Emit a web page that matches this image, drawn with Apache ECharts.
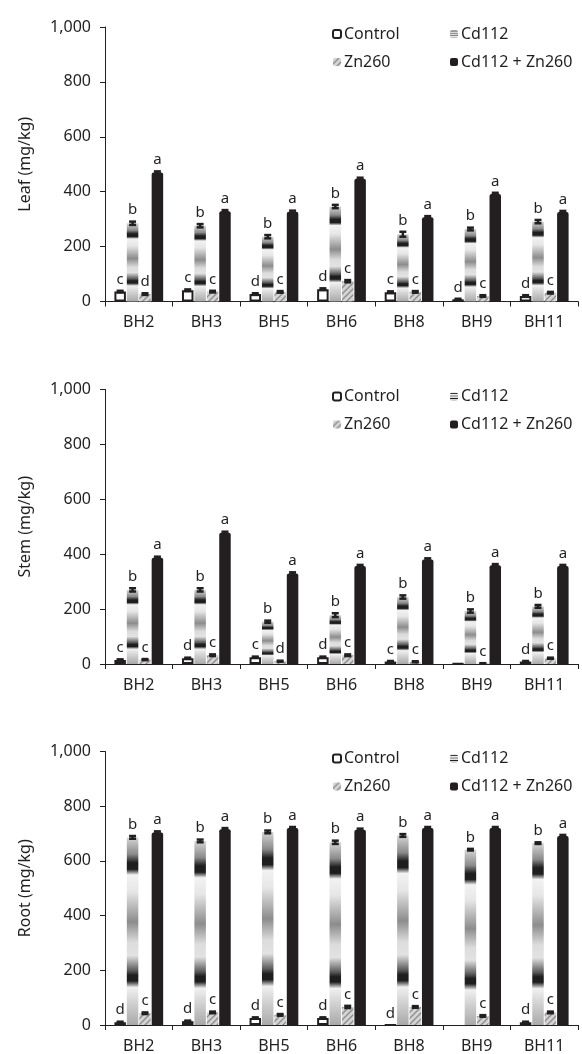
<!DOCTYPE html>
<html>
<head>
<meta charset="utf-8">
<script src="https://cdn.jsdelivr.net/npm/echarts@6/dist/echarts.min.js"></script>
<style>
  html, body { margin: 0; padding: 0; background: #fff; }
  #chart { width: 582px; height: 1054px; }
</style>
</head>
<body>
<div id="chart"></div>
<script>
// ---------- DATA ----------
const categories = ['BH2', 'BH3', 'BH5', 'BH6', 'BH8', 'BH9', 'BH11'];
const seriesNames = ['Control', 'Cd112', 'Zn260', 'Cd112 + Zn260'];
const yTicks = [0, 200, 400, 600, 800, 1000];
const panelNames = ['Leaf (mg/kg)', 'Stem (mg/kg)', 'Root (mg/kg)'];

// Leaf
const leafControl = [36, 41, 27, 45, 34, 8, 20];
const leafCd112 = [285, 276, 236, 346, 245, 264, 291];
const leafZn260 = [27, 36, 35, 74, 35, 20, 32];
const leafCdZn = [470, 329, 327, 447, 307, 392, 326];
const leafControlErr = [3, 3, 3, 3, 3, 2, 3];
const leafCd112Err = [6, 6, 6, 6, 9, 5, 6];
const leafZn260Err = [3, 3, 3, 4, 3, 3, 3];
const leafCdZnErr = [4, 4, 4, 4, 4, 4, 4];
const leafControlLetters = ['c', 'c', 'd', 'd', 'c', 'd', 'd'];
const leafCd112Letters = ['b', 'b', 'b', 'b', 'b', 'b', 'b'];
const leafZn260Letters = ['d', 'c', 'c', 'c', 'c', 'c', 'c'];
const leafCdZnLetters = ['a', 'a', 'a', 'a', 'a', 'a', 'a'];

// Stem
const stemControl = [15, 21, 25, 25, 9, 1, 9];
const stemCd112 = [270, 270, 154, 178, 244, 193, 210];
const stemZn260 = [16, 32, 10, 32, 8, 2, 21];
const stemCdZn = [387, 478, 330, 357, 381, 360, 357];
const stemControlErr = [2, 2, 2, 2, 2, 0, 2];
const stemCd112Err = [6, 6, 4, 7, 6, 6, 5];
const stemZn260Err = [2, 3, 2, 3, 2, 1, 2];
const stemCdZnErr = [4, 4, 4, 4, 4, 4, 4];
const stemControlLetters = ['c', 'd', 'c', 'd', 'c', '', 'd'];
const stemCd112Letters = ['b', 'b', 'b', 'b', 'b', 'b', 'b'];
const stemZn260Letters = ['c', 'c', 'd', 'c', 'c', 'c', 'c'];
const stemCdZnLetters = ['a', 'a', 'a', 'a', 'a', 'a', 'a'];

// Root
const rootControl = [10, 14, 26, 26, 0, null, 10];
const rootCd112 = [686, 673, 706, 668, 693, 641, 665];
const rootZn260 = [43, 46, 37, 66, 66, 33, 46];
const rootCdZn = [704, 716, 720, 714, 720, 720, 691];
const rootControlErr = [2, 2, 2, 2, 0, 0, 2];
const rootCd112Err = [5, 5, 5, 6, 5, 3, 3];
const rootZn260Err = [3, 3, 3, 4, 3, 3, 3];
const rootCdZnErr = [4, 4, 4, 4, 4, 4, 4];
const rootControlLetters = ['d', 'd', 'd', 'd', 'd', '', 'd'];
const rootCd112Letters = ['b', 'b', 'b', 'b', 'b', 'b', 'b'];
const rootZn260Letters = ['c', 'c', 'c', 'c', 'c', 'c', 'c'];
const rootCdZnLetters = ['a', 'a', 'a', 'a', 'a', 'a', 'a'];

// ---------- STYLE ----------
const INK = '#231f20';
const FONT = '"Noto Sans", "DejaVu Sans", sans-serif';
const BAR_W = 11.5;
const BAR_GAP = 0.08;

function hatchPattern() {
  const c = document.createElement('canvas');
  c.width = 6; c.height = 6;
  const g = c.getContext('2d');
  g.fillStyle = '#d4d4d4';
  g.fillRect(0, 0, 6, 6);
  g.strokeStyle = '#8c8c8c';
  g.lineWidth = 1.3;
  g.beginPath();
  g.moveTo(-3, 3); g.lineTo(3, -3);
  g.moveTo(0, 6); g.lineTo(6, 0);
  g.moveTo(3, 9); g.lineTo(9, 3);
  g.stroke();
  return { image: c, repeat: 'repeat' };
}

const cdGradient = new echarts.graphic.LinearGradient(0, 0, 0, 1, [
  { offset: 0.00, color: '#d6d6d6' },
  { offset: 0.09, color: '#8a8a8a' },
  { offset: 0.135, color: '#1e1e1e' },
  { offset: 0.17, color: '#1e1e1e' },
  { offset: 0.20, color: '#f2f2f2' },
  { offset: 0.29, color: '#e6e6e6' },
  { offset: 0.45, color: '#8c8c8c' },
  { offset: 0.56, color: '#dcdcdc' },
  { offset: 0.63, color: '#e2e2e2' },
  { offset: 0.71, color: '#5a5a5a' },
  { offset: 0.735, color: '#1e1e1e' },
  { offset: 0.765, color: '#1e1e1e' },
  { offset: 0.80, color: '#f0f0f0' },
  { offset: 0.88, color: '#d2d2d2' },
  { offset: 1.00, color: '#a9a9a9' }
]);

const itemStyles = [
  { color: '#ffffff', borderColor: INK, borderWidth: 2 },
  { color: cdGradient },
  { color: hatchPattern() },
  { color: INK, borderRadius: [2, 2, 0, 0] }
];

const panels = [
  { vals: [leafControl, leafCd112, leafZn260, leafCdZn],
    errs: [leafControlErr, leafCd112Err, leafZn260Err, leafCdZnErr],
    lets: [leafControlLetters, leafCd112Letters, leafZn260Letters, leafCdZnLetters] },
  { vals: [stemControl, stemCd112, stemZn260, stemCdZn],
    errs: [stemControlErr, stemCd112Err, stemZn260Err, stemCdZnErr],
    lets: [stemControlLetters, stemCd112Letters, stemZn260Letters, stemCdZnLetters] },
  { vals: [rootControl, rootCd112, rootZn260, rootCdZn],
    errs: [rootControlErr, rootCd112Err, rootZn260Err, rootCdZnErr],
    lets: [rootControlLetters, rootCd112Letters, rootZn260Letters, rootCdZnLetters] }
];

const gridTops = [27, 389.5, 751.5];
const GRID_H = 274.5;

const grid = [], xAxis = [], yAxis = [], series = [], legend = [];

gridTops.forEach((top, p) => {
  grid.push({ left: 105, right: 4, top: top, height: GRID_H });
  xAxis.push({
    type: 'category', gridIndex: p, data: categories,
    axisLine: { lineStyle: { color: INK, width: 1 } },
    axisTick: { show: true, length: 5, alignWithLabel: false, lineStyle: { color: INK } },
    axisLabel: { color: INK, fontSize: 16, fontFamily: FONT, margin: 13 },
    splitLine: { show: false }
  });
  yAxis.push({
    type: 'value', gridIndex: p, min: yTicks[0], max: yTicks[yTicks.length - 1], interval: 200,
    name: panelNames[p], nameLocation: 'middle', nameGap: 72,
    nameTextStyle: { color: INK, fontSize: 16, fontFamily: FONT },
    axisLine: { show: true, lineStyle: { color: INK, width: 1 } },
    axisTick: { show: true, length: 5, lineStyle: { color: INK } },
    axisLabel: {
      color: INK, fontSize: 16, fontFamily: FONT, margin: 14,
      formatter: v => v.toLocaleString('en-US')
    },
    splitLine: { show: false }
  });

  const P = panels[p];
  seriesNames.forEach((nm, s) => {
    series.push({
      name: nm, type: 'bar', xAxisIndex: p, yAxisIndex: p,
      data: P.vals[s], barWidth: BAR_W, barGap: (BAR_GAP * 100) + '%',
      itemStyle: itemStyles[s], z: 2
    });
  });
  seriesNames.forEach((nm, s) => {
    const letters = P.lets[s];
    series.push({
      type: 'custom', xAxisIndex: p, yAxisIndex: p, z: 5, silent: true,
      data: P.vals[s].map((v, i) => [i, v == null ? 0 : v, P.errs[s][i]]),
      renderItem: function (params, api) {
        const ci = api.value(0), v = api.value(1), e = api.value(2);
        const gap = BAR_W * BAR_GAP;
        const total = 4 * BAR_W + 3 * gap;
        const cx = api.coord([ci, 0])[0] - total / 2 + s * (BAR_W + gap) + BAR_W / 2;
        const yHi = api.coord([ci, v + e])[1];
        const yLo = api.coord([ci, Math.max(0, v - e)])[1];
        const children = [];
        if (e > 0) {
          const st = { stroke: INK, lineWidth: 2.5 };
          children.push({ type: 'line', shape: { x1: cx, y1: yLo, x2: cx, y2: yHi }, style: st });
          children.push({ type: 'line', shape: { x1: cx - 3.5, y1: yHi, x2: cx + 3.5, y2: yHi }, style: st });
          children.push({ type: 'line', shape: { x1: cx - 3.5, y1: yLo, x2: cx + 3.5, y2: yLo }, style: st });
        }
        const t = letters[params.dataIndex];
        if (t) {
          children.push({
            type: 'text', x: cx, y: yHi - 4,
            style: { text: t, fill: INK, font: '15px ' + FONT, align: 'center', verticalAlign: 'bottom' }
          });
        }
        return { type: 'group', children: children };
      }
    });
  });

  const legendBase = {
    orient: 'vertical', itemWidth: 8, itemHeight: 8, itemGap: 12,
    selectedMode: false, padding: 0,
    textStyle: { color: INK, fontSize: 16, fontFamily: FONT, padding: [0, 0, 0, -2] }
  };
  legend.push(Object.assign({}, legendBase, { data: ['Control', 'Zn260'], left: 332, top: top - 1 }));
  legend.push(Object.assign({}, legendBase, { data: ['Cd112', 'Cd112 + Zn260'], left: 450, top: top - 1 }));
});

const chart = echarts.init(document.getElementById('chart'), null, { renderer: 'canvas' });
chart.setOption({
  animation: false,
  backgroundColor: '#ffffff',
  textStyle: { fontFamily: FONT },
  grid: grid, xAxis: xAxis, yAxis: yAxis, legend: legend, series: series
});
</script>
</body>
</html>
